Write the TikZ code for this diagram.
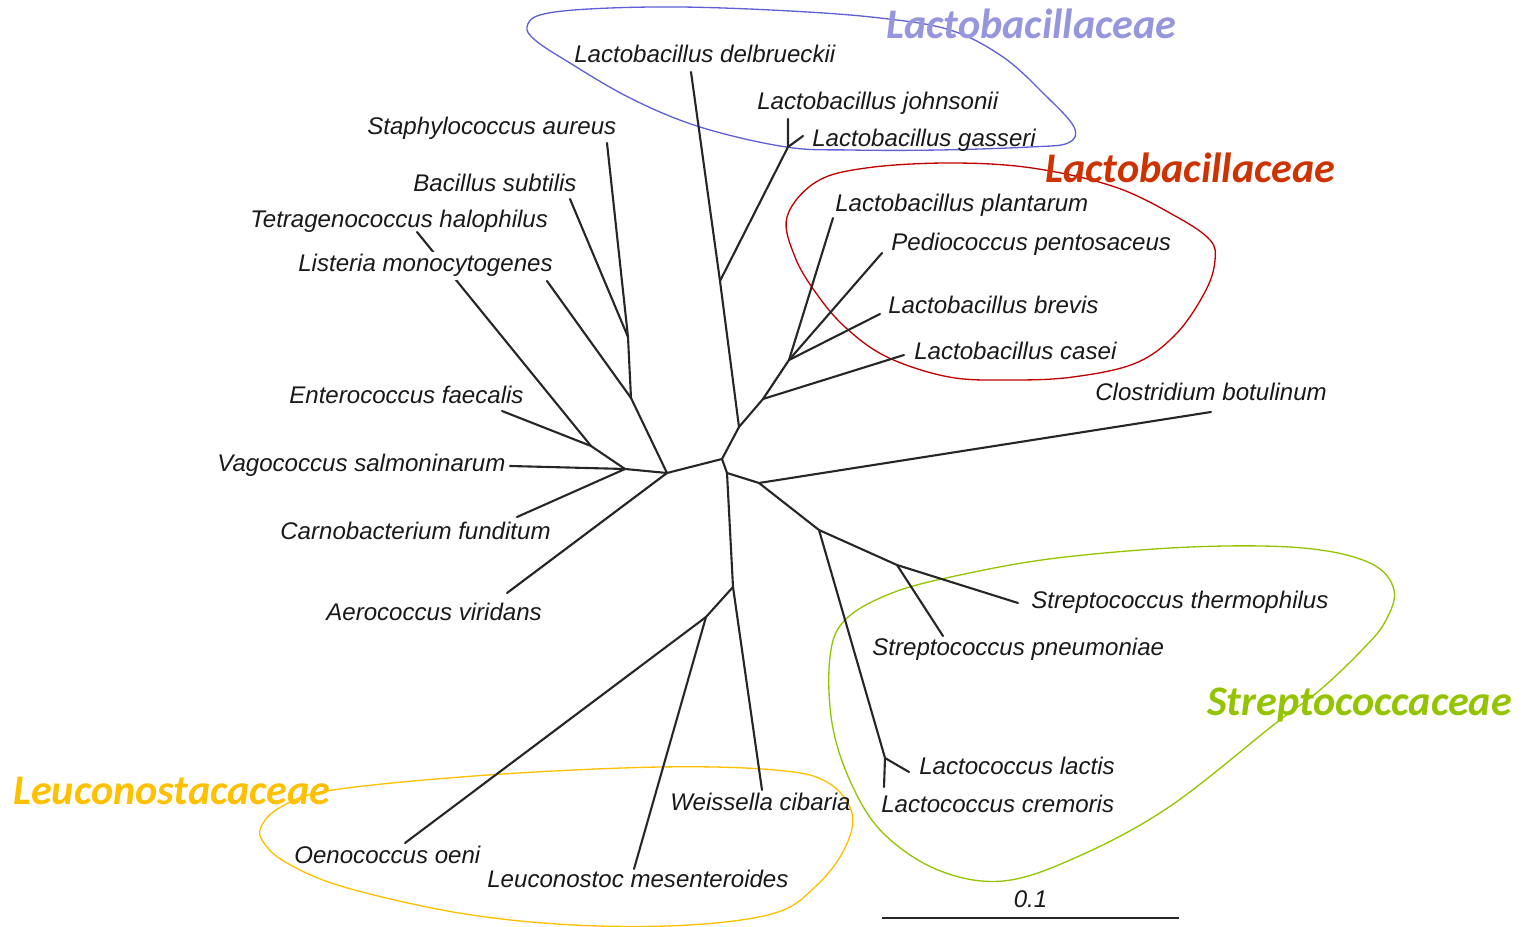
\documentclass[tikz,border=0pt]{standalone}
\usepackage{fontspec}
\setmainfont{Liberation Sans}
\newfontfamily\familyfont{Carlito}
\usepackage{xcolor}
\usepackage{tikz}
\usetikzlibrary{calc}

\definecolor{lactoblue}{RGB}{150,150,222}
\definecolor{loopblue}{RGB}{95,95,215}
\definecolor{lactored}{RGB}{204,51,0}
\definecolor{loopred}{RGB}{192,0,0}
\definecolor{streptogreen}{RGB}{148,196,0}
\definecolor{leucogold}{RGB}{255,192,0}

\tikzset{
	branch/.style={line width=1.2pt, draw=black!85, line cap=round},
	taxon/.style={anchor=base west, inner sep=0pt, text=black!90, font=\fontsize{13.7}{16}\selectfont\itshape},
	family/.style={anchor=base west, inner sep=0pt, font=\familyfont\fontsize{24}{28}\selectfont\bfseries\itshape},
	clade/.style={line width=0.75pt},
}

\begin{document}
\begin{tikzpicture}[x=0.2mm, y=-0.2mm]
		%frame of the figure
		\useasboundingbox (0,0) rectangle (1524,927);
		
		%definition of inner nodes of the tree
		\coordinate (root) at (722,459);
		\coordinate (left hub) at (667,473);
		\coordinate (lacto hub) at (739,427);
		\coordinate (delb node) at (720,281);
		\coordinate (johns node) at (788,147);
		\coordinate (casei node) at (763,399);
		\coordinate (plant node) at (789,360);
		\coordinate (low hub) at (727,473);
		\coordinate (clost node) at (759,483);
		\coordinate (strep hub) at (819,530);
		\coordinate (strep node) at (897,565);
		\coordinate (lactoc node) at (885,758);
		\coordinate (weiss node) at (733,587);
		\coordinate (leuco node) at (706,617);
		\coordinate (list node) at (631,398);
		\coordinate (staph node) at (628,337);
		\coordinate (vago node) at (625,469);
		\coordinate (entero node) at (591,446);
		
		%definition of leaves
		\coordinate (delbrueckii) at (691,72);
		\coordinate (johnsonii) at (788,119);
		\coordinate (gasseri) at (803,136);
		\coordinate (plantarum) at (833,218);
		\coordinate (pentosaceus) at (882,253);
		\coordinate (brevis) at (880,314);
		\coordinate (casei) at (904,355);
		\coordinate (botulinum) at (1211,412);
		\coordinate (thermophilus) at (1018,603);
		\coordinate (pneumoniae) at (943,636);
		\coordinate (lactis) at (909,772);
		\coordinate (cremoris) at (884,787);
		\coordinate (cibaria) at (762,790);
		\coordinate (mesenteroides) at (634,869);
		\coordinate (oeni) at (405,843);
		\coordinate (viridans) at (507,593);
		\coordinate (funditum) at (517,517);
		\coordinate (salmoninarum) at (510,466);
		\coordinate (faecalis) at (502,411);
		\coordinate (halophilus) at (417,232);
		\coordinate (monocytogenes) at (547,281);
		\coordinate (subtilis) at (570,199);
		\coordinate (aureus) at (607,143);
		
		%clades
		\draw [clade, loopblue] plot [smooth cycle, tension=0.6] coordinates {(527,27) (540,15) (589,9) (680,7) (790,11) (880,18) (950,30) (1003,57) (1045,95) (1074,127) (1068,143) (1030,147) (940,150) (850,150) (786,147) (700,127) (630,98) (565,60) (535,40)};
		\draw [clade, loopred] plot [smooth cycle, tension=0.6] coordinates {(787,217) (816,182) (866,168) (949,163) (1032,168) (1115,187) (1177,217) (1210,240) (1215,260) (1206,290) (1177,333) (1136,363) (1073,377) (1011,380) (949,377) (887,357) (845,327) (816,293) (795,257)};
		\draw [clade, streptogreen] plot [smooth cycle, tension=0.6] coordinates {(830,657) (845,620) (892,593) (960,575) (1057,558) (1191,547) (1303,548) (1370,563) (1394,590) (1385,622) (1362,650) (1320,690) (1276,723) (1169,807) (1077,857) (1003,881) (938,870) (883,833) (851,783) (832,723)};
		\draw [clade, leucogold] plot [smooth cycle, tension=0.6] coordinates {(261,827) (281,807) (333,790) (488,775) (660,767) (775,770) (827,782) (852,813) (844,850) (815,887) (775,913) (689,925) (574,925) (459,913) (344,887) (287,863) (264,843)};
		
		%branches
		\draw [branch] (root) -- (left hub);
		\draw [branch] (root) -- (lacto hub);
		\draw [branch] (root) -- (low hub);
		\draw [branch] (lacto hub) -- (delb node) -- (delbrueckii);
		\draw [branch] (delb node) -- (johns node) -- (johnsonii);
		\draw [branch] (johns node) -- (gasseri);
		\draw [branch] (lacto hub) -- (casei node) -- (casei);
		\draw [branch] (casei node) -- (plant node) -- (plantarum);
		\draw [branch] (plant node) -- (pentosaceus);
		\draw [branch] (plant node) -- (brevis);
		\draw [branch] (low hub) -- (clost node) -- (botulinum);
		\draw [branch] (clost node) -- (strep hub) -- (strep node) -- (thermophilus);
		\draw [branch] (strep node) -- (pneumoniae);
		\draw [branch] (strep hub) -- (lactoc node) -- (lactis);
		\draw [branch] (lactoc node) -- (cremoris);
		\draw [branch] (low hub) -- (weiss node) -- (cibaria);
		\draw [branch] (weiss node) -- (leuco node) -- (oeni);
		\draw [branch] (leuco node) -- (mesenteroides);
		\draw [branch] (left hub) -- (viridans);
		\draw [branch] (left hub) -- (vago node) -- (salmoninarum);
		\draw [branch] (vago node) -- (funditum);
		\draw [branch] (vago node) -- (entero node) -- (faecalis);
		\draw [branch] (entero node) -- (halophilus);
		\draw [branch] (left hub) -- (list node) -- (monocytogenes);
		\draw [branch] (list node) -- (staph node) -- (aureus);
		\draw [branch] (staph node) -- (subtilis);
		
		%species names
		\node [taxon] (lab delbrueckii) at (574,63) {Lactobacillus delbrueckii};
		\node [taxon] (lab johnsonii) at (757,110) {Lactobacillus johnsonii};
		\node [taxon] (lab gasseri) at (812,147) {Lactobacillus gasseri};
		\node [taxon] (lab aureus) at (367,135) {Staphylococcus aureus};
		\node [taxon] (lab subtilis) at (413,192) {Bacillus subtilis};
		\node [taxon] (lab halophilus) at (250,228) {Tetragenococcus halophilus};
		\node [taxon, fill=white, inner ysep=1.5pt] (lab monocytogenes) at (298,272) {Listeria monocytogenes};
		\node [taxon] (lab plantarum) at (835,212) {Lactobacillus plantarum};
		\node [taxon] (lab pentosaceus) at (891,251) {Pediococcus pentosaceus};
		\node [taxon] (lab brevis) at (888,314) {Lactobacillus brevis};
		\node [taxon] (lab casei) at (914,360) {Lactobacillus casei};
		\node [taxon] (lab botulinum) at (1095,401) {Clostridium botulinum};
		\node [taxon] (lab faecalis) at (289,404) {Enterococcus faecalis};
		\node [taxon] (lab salmoninarum) at (217,472) {Vagococcus salmoninarum};
		\node [taxon] (lab funditum) at (280,540) {Carnobacterium funditum};
		\node [taxon] (lab viridans) at (326,621) {Aerococcus viridans};
		\node [taxon] (lab thermophilus) at (1031,609) {Streptococcus thermophilus};
		\node [taxon] (lab pneumoniae) at (872,656) {Streptococcus pneumoniae};
		\node [taxon] (lab lactis) at (919,775) {Lactococcus lactis};
		\node [taxon] (lab cremoris) at (881,813) {Lactococcus cremoris};
		\node [taxon] (lab cibaria) at (670,811) {Weissella cibaria};
		\node [taxon] (lab oeni) at (294,864) {Oenococcus oeni};
		\node [taxon] (lab mesenteroides) at (487,888) {Leuconostoc mesenteroides};
		
		%family names
		\node [family, text=lactoblue] (fam blue) at (886,39) {Lactobacillaceae};
		\node [family, text=lactored] (fam red) at (1045,183) {Lactobacillaceae};
		\node [family, text=streptogreen] (fam green) at (1207,716) {Streptococcaceae};
		\node [family, text=leucogold] (fam gold) at (13,805) {Leuconostacaceae};
		
		%scale bar
		\coordinate (bar left) at (882,918);
		\coordinate (bar right) at (1179,918);
		\draw [line width=1pt, black!85] (bar left) -- node [midway, above=1.9mm, inner sep=0pt, text=black!90, font=\fontsize{13.7}{16}\selectfont\itshape] (bar label) {0.1} (bar right);
	\end{tikzpicture}
\end{document}
